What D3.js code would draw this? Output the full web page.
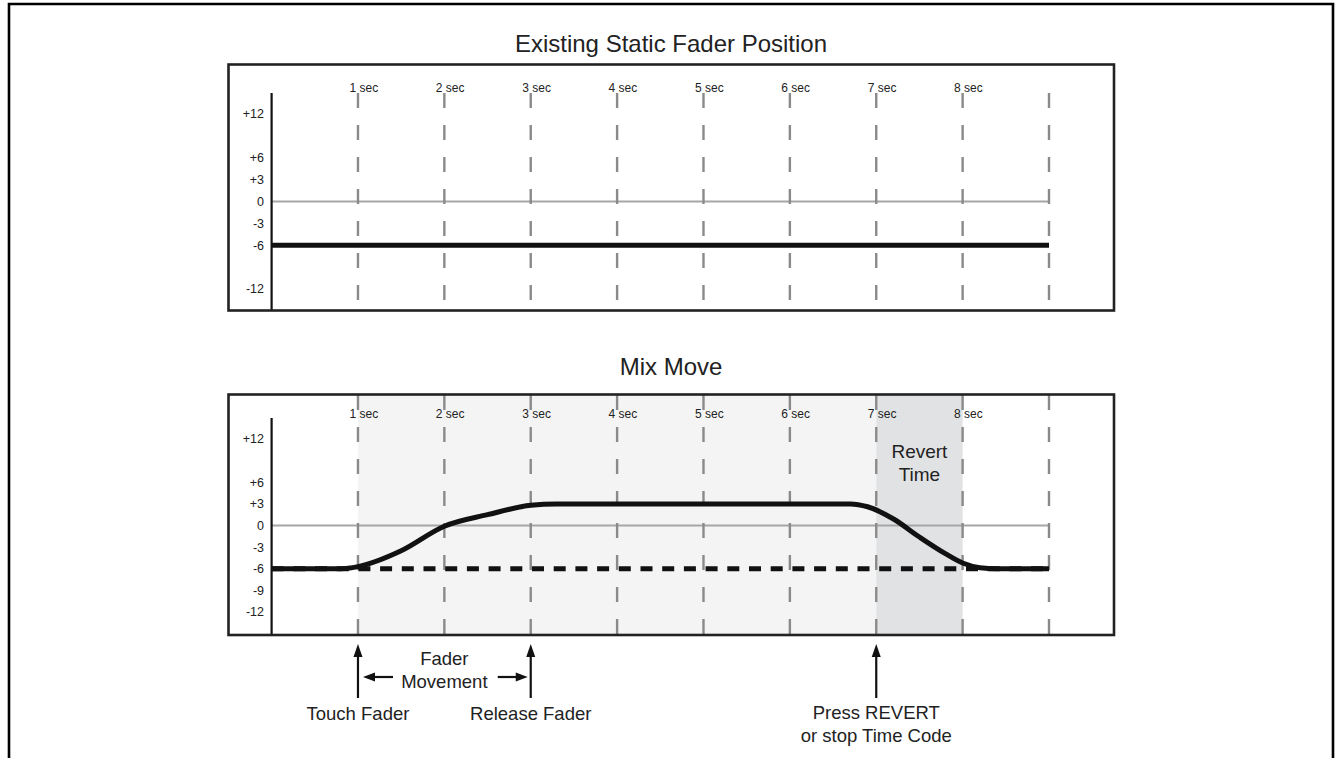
<!DOCTYPE html>
<html><head><meta charset="utf-8">
<script src="https://cdn.jsdelivr.net/npm/d3@7"></script>
<style>
html,body{margin:0;padding:0;background:#fff;}
svg{display:block;font-family:"Liberation Sans",Arial,Helvetica,sans-serif;}
</style></head>
<body><svg id="c" width="1337" height="758"></svg>
<script>
// ---- data ----
const gridSeconds = [1,2,3,4,5,6,7,8,9];
const secLabels = ["1 sec","2 sec","3 sec","4 sec","5 sec","6 sec","7 sec","8 sec",""];
const yTicksTop = [12,6,3,0,-3,-6,-12];
const yTickLabelsTop = ["+12","+6","+3","0","-3","-6","-12"];
const yTicksBottom = [12,6,3,0,-3,-6,-9,-12];
const yTickLabelsBottom = ["+12","+6","+3","0","-3","-6","-9","-12"];
const staticTime = [0,9];
const staticLevel = [-6,-6];
const mixTime  = [0, 0.8, 1.0, 1.5, 2.0, 2.5, 3.0, 3.3, 6.7, 6.9, 7.2, 7.5, 7.8, 8.0, 8.2, 8.4, 9];
const mixLevel = [-6, -6, -5.7, -3.5, -0.1, 1.5, 2.8, 3.0, 3.0, 2.6, 0.9, -1.6, -3.9, -5.2, -5.85, -6, -6];
const touchRegion = [1,7];
const revertRegion = [7,8];
const titles = ["Existing Static Fader Position","Mix Move"];

const svg = d3.select("#c");
const x = d3.scaleLinear().domain([0,9]).range([271.6,1049]);

// outer frame
svg.append("path").attr("d","M9,770V4H1333V770").attr("fill","none").attr("stroke","#000").attr("stroke-width",2.6);

function panel(opt){
  const g = svg.append("g");
  const y = d3.scaleLinear().domain([-12,12]).range(opt.yr);
  // shading
  if(opt.shade){
    g.append("rect").attr("x",x(touchRegion[0])).attr("y",opt.top).attr("width",x(touchRegion[1])-x(touchRegion[0])).attr("height",opt.bottom-opt.top).attr("fill","#f4f4f4");
    g.append("rect").attr("x",x(revertRegion[0])).attr("y",opt.top).attr("width",x(revertRegion[1])-x(revertRegion[0])).attr("height",opt.bottom-opt.top).attr("fill","#e1e2e4");
  }
  // zero line
  g.append("line").attr("x1",x(0)).attr("x2",x(9)).attr("y1",y(0)).attr("y2",y(0)).attr("stroke","#a6a6a6").attr("stroke-width",2);
  // dashed grid
  g.selectAll(".grid").data(gridSeconds).join("line")
    .attr("x1",d=>x(d)).attr("x2",d=>x(d)).attr("y1",opt.gridTop).attr("y2",opt.bottom)
    .attr("stroke","#8a8a8a").attr("stroke-width",2.4).attr("stroke-dasharray","15,17");
  // sec labels
  g.selectAll(".sl").data(gridSeconds).join("text")
    .attr("x",d=>x(d)-8.5).attr("y",opt.labelY).attr("font-size",12).attr("fill","#222")
    .text((d,i)=>secLabels[i]);
  // y axis
  g.append("line").attr("x1",x(0)).attr("x2",x(0)).attr("y1",opt.axisTop).attr("y2",opt.bottom).attr("stroke","#111").attr("stroke-width",2.2);
  g.selectAll(".yl").data(opt.ticks).join("text")
    .attr("x",264).attr("y",d=>y(d)).attr("dy","0.35em").attr("text-anchor","end")
    .attr("font-size",12.5).attr("fill","#222").text((d,i)=>opt.tickLabels[i]);
  // box
  g.append("rect").attr("x",228.5).attr("y",opt.top).attr("width",1114-228.5).attr("height",opt.bottom-opt.top)
    .attr("fill","none").attr("stroke","#222").attr("stroke-width",2.6);
  // title
  svg.append("text").attr("x",671).attr("y",opt.titleY).attr("text-anchor","middle").attr("font-size",24).attr("fill","#222").text(opt.title);
  return {g,y};
}

const p1 = panel({top:64.5,bottom:310.5,yr:[289,114],gridTop:93,axisTop:93,labelY:92,ticks:yTicksTop,tickLabels:yTickLabelsTop,titleY:52,title:titles[0],shade:false});
const line1 = d3.line().x((d,i)=>x(staticTime[i])).y((d,i)=>p1.y(staticLevel[i]));
p1.g.append("path").datum(staticTime).attr("d",line1).attr("fill","none").attr("stroke","#111").attr("stroke-width",5);

const p2 = panel({top:394.5,bottom:635,yr:[612,439],gridTop:395,axisTop:418,labelY:418,ticks:yTicksBottom,tickLabels:yTickLabelsBottom,titleY:375,title:titles[1],shade:true});
// dashed original level
p2.g.append("path").datum(staticTime).attr("d",d3.line().x((d,i)=>x(staticTime[i])).y((d,i)=>p2.y(staticLevel[i])))
  .attr("fill","none").attr("stroke","#111").attr("stroke-width",5).attr("stroke-dasharray","12,9.7");
// mix move curve
const line2 = d3.line().x((d,i)=>x(mixTime[i])).y((d,i)=>p2.y(mixLevel[i])).curve(d3.curveMonotoneX);
p2.g.append("path").datum(mixTime).attr("d",line2).attr("fill","none").attr("stroke","#111").attr("stroke-width",5).attr("stroke-linejoin","round");

// revert label
const rx = (x(revertRegion[0])+x(revertRegion[1]))/2;
svg.append("text").attr("x",rx).attr("y",458).attr("text-anchor","middle").attr("font-size",19).attr("fill","#222").text("Revert");
svg.append("text").attr("x",rx).attr("y",481).attr("text-anchor","middle").attr("font-size",19).attr("fill","#222").text("Time");

// annotations
function upArrow(t){
  const cx = x(t);
  svg.append("line").attr("x1",cx).attr("x2",cx).attr("y1",698).attr("y2",655).attr("stroke","#111").attr("stroke-width",2.2);
  svg.append("path").attr("d",`M${cx},644L${cx-4.5},657L${cx+4.5},657Z`).attr("fill","#111");
}
function hArrow(x0,x1,yy){
  const dir = Math.sign(x1-x0);
  svg.append("line").attr("x1",x0).attr("x2",x1-dir*10).attr("y1",yy).attr("y2",yy).attr("stroke","#111").attr("stroke-width",2.2);
  svg.append("path").attr("d",`M${x1},${yy}L${x1-dir*12},${yy-4.5}L${x1-dir*12},${yy+4.5}Z`).attr("fill","#111");
}
const annTimes = [1,3,7];
annTimes.forEach(upArrow);
function label(t,yy,txt){
  svg.append("text").attr("x",x(t)).attr("y",yy).attr("text-anchor","middle").attr("font-size",18.5).attr("fill","#222").text(txt);
}
label(1,720,"Touch Fader");
label(3,720,"Release Fader");
label(7,719,"Press REVERT");
label(7,742,"or stop Time Code");
label(2,665,"Fader");
label(2,688,"Movement");
hArrow(x(1)+35,x(1)+5,677);
hArrow(x(3)-33,x(3)-3,677);
</script></body></html>
